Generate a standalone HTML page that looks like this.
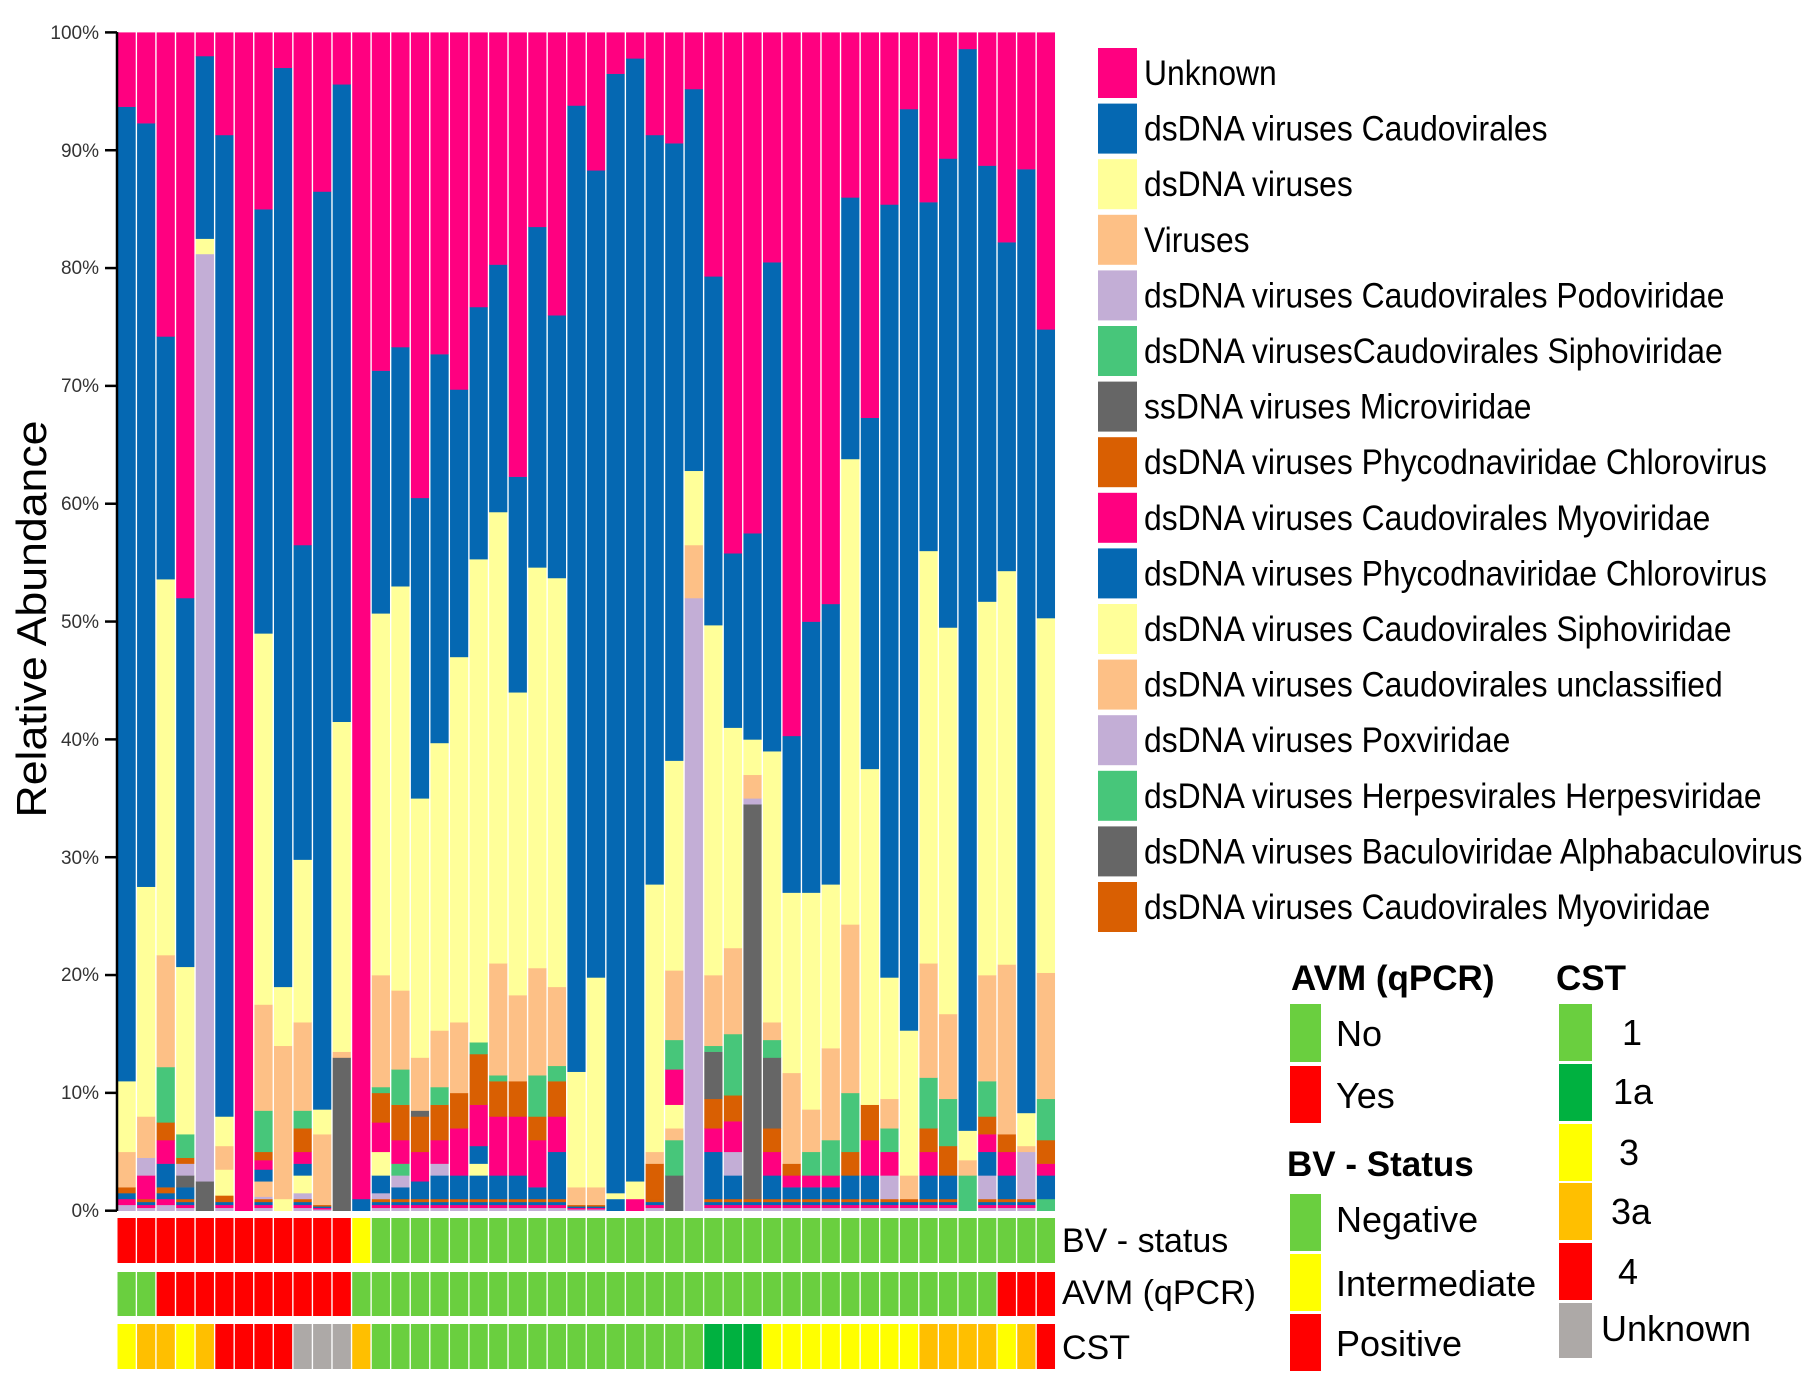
<!DOCTYPE html>
<html><head><meta charset="utf-8"><style>
html,body{margin:0;padding:0;background:#fff;}
svg{display:block;font-family:"Liberation Sans",Arial,sans-serif;}
</style></head><body>
<svg id="s" width="1815" height="1386" viewBox="0 0 1815 1386" xmlns="http://www.w3.org/2000/svg">
<rect width="1815" height="1386" fill="#fff"/>
<g id="bars"></g>
<g id="ann"></g>
<g stroke="#000" stroke-width="2.5" fill="none">
<line x1="117" y1="32" x2="117" y2="1211"/>
</g>
<g id="ticks" stroke="#000" stroke-width="2.5"></g>
<g font-size="19" fill="#333" text-anchor="end">
<text x="99" y="1217">0%</text>
<text x="99" y="1099">10%</text>
<text x="99" y="981">20%</text>
<text x="99" y="864">30%</text>
<text x="99" y="746">40%</text>
<text x="99" y="628">50%</text>
<text x="99" y="510">60%</text>
<text x="99" y="392">70%</text>
<text x="99" y="274">80%</text>
<text x="99" y="157">90%</text>
<text x="99" y="39">100%</text>
</g>
<text transform="translate(46,619) rotate(-90)" text-anchor="middle" font-size="42" fill="#000" textLength="397" lengthAdjust="spacingAndGlyphs">Relative Abundance</text>

<g id="leg"></g>
<g transform="translate(1144,0) scale(0.91,1)" font-size="35" fill="#000">
<text x="0" y="85">Unknown</text>
<text x="0" y="140.6">dsDNA viruses Caudovirales</text>
<text x="0" y="196.2">dsDNA viruses</text>
<text x="0" y="251.8">Viruses</text>
<text x="0" y="307.4">dsDNA viruses Caudovirales Podoviridae</text>
<text x="0" y="363">dsDNA virusesCaudovirales Siphoviridae</text>
<text x="0" y="418.6">ssDNA viruses Microviridae</text>
<text x="0" y="474.2">dsDNA viruses Phycodnaviridae Chlorovirus</text>
<text x="0" y="529.8">dsDNA viruses Caudovirales Myoviridae</text>
<text x="0" y="585.4">dsDNA viruses Phycodnaviridae Chlorovirus</text>
<text x="0" y="641">dsDNA viruses Caudovirales Siphoviridae</text>
<text x="0" y="696.6">dsDNA viruses Caudovirales unclassified</text>
<text x="0" y="752.2">dsDNA viruses Poxviridae</text>
<text x="0" y="807.8">dsDNA viruses Herpesvirales Herpesviridae</text>
<text x="0" y="863.4">dsDNA viruses Baculoviridae Alphabaculovirus</text>
<text x="0" y="919">dsDNA viruses Caudovirales Myoviridae</text>
</g>

<g font-size="34" fill="#000">
<text x="1062" y="1252">BV - status</text>
<text x="1062" y="1304">AVM (qPCR)</text>
<text x="1062" y="1359">CST</text>
</g>

<g font-size="35" font-weight="bold" fill="#000">
<text x="1291" y="990">AVM (qPCR)</text>
<text x="1287" y="1176">BV - Status</text>
<text x="1556" y="990">CST</text>
</g>
<rect x="1290" y="1004" width="31" height="58" fill="#6ACF3F"/>
<rect x="1290" y="1066" width="31" height="57" fill="#FF0000"/>
<rect x="1290" y="1194" width="31" height="57" fill="#6ACF3F"/>
<rect x="1290" y="1254" width="31" height="57" fill="#FFFF00"/>
<rect x="1290" y="1314" width="31" height="57" fill="#FF0000"/>
<rect x="1559" y="1004" width="33" height="57" fill="#6ACF3F"/>
<rect x="1559" y="1064" width="33" height="57" fill="#00B140"/>
<rect x="1559" y="1124" width="33" height="57" fill="#FFFF00"/>
<rect x="1559" y="1183" width="33" height="57" fill="#FFBF00"/>
<rect x="1559" y="1243" width="33" height="57" fill="#FF0000"/>
<rect x="1559" y="1303" width="33" height="55" fill="#ADA9A7"/>
<g font-size="36" fill="#000">
<text x="1336" y="1046">No</text>
<text x="1336" y="1108">Yes</text>
<text x="1336" y="1232">Negative</text>
<text x="1336" y="1296">Intermediate</text>
<text x="1336" y="1356">Positive</text>
<text x="1622" y="1045">1</text>
<text x="1613" y="1104">1a</text>
<text x="1619" y="1165">3</text>
<text x="1611" y="1224">3a</text>
<text x="1618" y="1284">4</text>
<text x="1601" y="1341">Unknown</text>
</g>
</svg>
<script>
(function(){
var NS="http://www.w3.org/2000/svg";
var C={P:"#FF0080",B:"#0568B2",Y:"#FFFF99",O:"#FDC086",L:"#C3AED6",G:"#47C67A",D:"#666666",R:"#D95F02"};
var data=[
"m2 O5 Y11 B93.7 P100",
"m1 P3 L4.5 O8 Y27.5 B92.3 P100",
"m2 B4 P6 R7.5 G12.2 O21.7 Y53.6 B74.2 P100",
"m1 B2 D3 L4 R4.5 G6.5 Y20.7 B52 P100",
"D2.5 L81.2 Y82.5 B98 P100",
"m1 R1.3 Y3.5 O5.5 Y8 B91.3 P100",
"P100",
"m1 L1.2 O2.5 B3.5 P4.3 R5 G8.5 O17.5 Y49 B85 P100",
"Y1 O14 Y19 B97 P100",
"m1 L1.5 Y3 B4 P5 R7 G8.5 O16 Y29.8 B56.5 P100",
"m0.5 O6.5 Y8.6 B86.5 P100",
"D13 O13.5 Y41.5 B95.6 P100",
"B1 P100",
"m1 L1.5 B3 Y5 P7.5 R10 G10.5 O20 Y50.7 B71.3 P100",
"m1 B2 L3 G4 P6 R9 G12 O18.7 Y53 B73.3 P100",
"m1 B2.5 P5 R8 D8.5 O13 Y35 B60.5 P100",
"m1 B3 L4 P6 R9 G10.5 O15.3 Y39.7 B72.7 P100",
"m1 B3 P7 R10 O16 Y47 B69.7 P100",
"m1 B3 Y4 B5.5 P9 R13.3 G14.3 Y55.3 B76.7 P100",
"m1 B3 P8 R11 G11.5 O21 Y59.3 B80.3 P100",
"m1 B3 P8 R11 O18.3 Y44 B62.3 P100",
"m1 B2 P6 R8 G11.5 O20.6 Y54.6 B83.5 P100",
"m1 B5 P8 R11 G12.3 O19 Y53.7 B76 P100",
"m0.5 O2 Y11.8 B93.8 P100",
"m0.5 O2 Y19.8 B88.3 P100",
"B1 Y1.5 B96.5 P100",
"P1 Y2.5 B97.8 P100",
"m1 R4 O5 Y27.7 B91.3 P100",
"D3 G6 O7 Y9 P12 G14.5 O20.4 Y38.2 B90.6 P100",
"L52 O56.5 Y62.8 B95.2 P100",
"m1 B5 P7 R9.5 D13.5 G14 O20 Y49.7 B79.3 P100",
"m1 B3 L5 P7.6 R9.8 G15 O22.3 Y41 B55.8 P100",
"m1 D34.5 L35 O37 Y40 B57.5 P100",
"m1 B3 P5 R7 D13 G14.5 O16 Y39 B80.5 P100",
"m1 B2 P3 R4 O11.7 Y27 B40.3 P100",
"m1 B2 P3 G5 O8.6 Y27 B50 P100",
"m1 B2 P3 G6 O13.8 Y27.7 B51.5 P100",
"m1 B3 R5 G10 O24.3 Y63.8 B86 P100",
"m1 B3 P6 R9 Y37.5 B67.3 P100",
"m1 L3 P5 G7 O9.5 Y19.8 B85.4 P100",
"m1 O3 Y15.3 B93.5 P100",
"m1 B3 P5 R7 G11.3 O21 Y56 B85.6 P100",
"m1 B3 R5.5 G9.5 O16.7 Y49.5 B89.3 P100",
"G3 O4.3 Y6.8 B98.6 P100",
"m1 L3 B5 P6.5 R8 G11 O20 Y51.7 B88.7 P100",
"m1 B3 P5 R6.5 O20.9 Y54.3 B82.2 P100",
"m1 L5 O5.5 Y8.3 B88.4 P100",
"G1 B3 P4 R6 G9.5 O20.2 Y50.3 B74.8 P100"
];
var x0=117.5,pitch=19.56,w=18.2,y0=1210.7,k=11.783;
var g=document.getElementById("bars");
function rect(par,x,y,ww,h,f){var r=document.createElementNS(NS,"rect");r.setAttribute("x",x);r.setAttribute("y",y);r.setAttribute("width",ww);r.setAttribute("height",h);r.setAttribute("fill",f);par.appendChild(r);}
data.forEach(function(s,i){
  var x=x0+i*pitch,prev=0;
  s.split(" ").forEach(function(t){
    var c=t[0],v=parseFloat(t.slice(1));
    if(c==="m"){
      var mix=["L","P","B","R"];
      for(var j=0;j<4;j++){var a=v*j/4,b=v*(j+1)/4;rect(g,x,y0-b*k,w,(b-a)*k+0.3,C[mix[j]]);}
      prev=v;return;
    }
    rect(g,x,y0-v*k,w,(v-prev)*k+0.3,C[c]);prev=v;
  });
});
var GR="#6ACF3F",RD="#FF0000",YE="#FFFF00",OR="#FFBF00",DG="#00B140",GY="#ADA9A7";
var bv=[],avm=[],cst=[],i;
for(i=0;i<48;i++){bv.push(i<12?RD:(i===12?YE:GR));avm.push((i>=2&&i<12)||i>=45?RD:GR);}
cst=[YE,OR,OR,YE,OR,RD,RD,RD,RD,GY,GY,GY,OR];
for(i=13;i<30;i++)cst.push(GR);
cst.push(DG,DG,DG);
for(i=33;i<41;i++)cst.push(YE);
cst.push(OR,OR,OR,OR,YE,OR,RD);
var a=document.getElementById("ann");
for(i=0;i<48;i++){var x=x0+i*pitch;
 rect(a,x,1218,w,45,bv[i]);rect(a,x,1272,w,44,avm[i]);rect(a,x,1324,w,45,cst[i]);}
var t=document.getElementById("ticks");
for(i=0;i<=10;i++){var y=y0-i*10*k;var l=document.createElementNS(NS,"line");l.setAttribute("x1",105);l.setAttribute("x2",117);l.setAttribute("y1",y);l.setAttribute("y2",y);t.appendChild(l);}
var lc=["P","B","Y","O","L","G","D","R","P","B","Y","O","L","G","D","R"];
var lg=document.getElementById("leg");
lc.forEach(function(c,j){rect(lg,1098,48+55.6*j,39,50,C[c]);});
})();
</script>
</body></html>
